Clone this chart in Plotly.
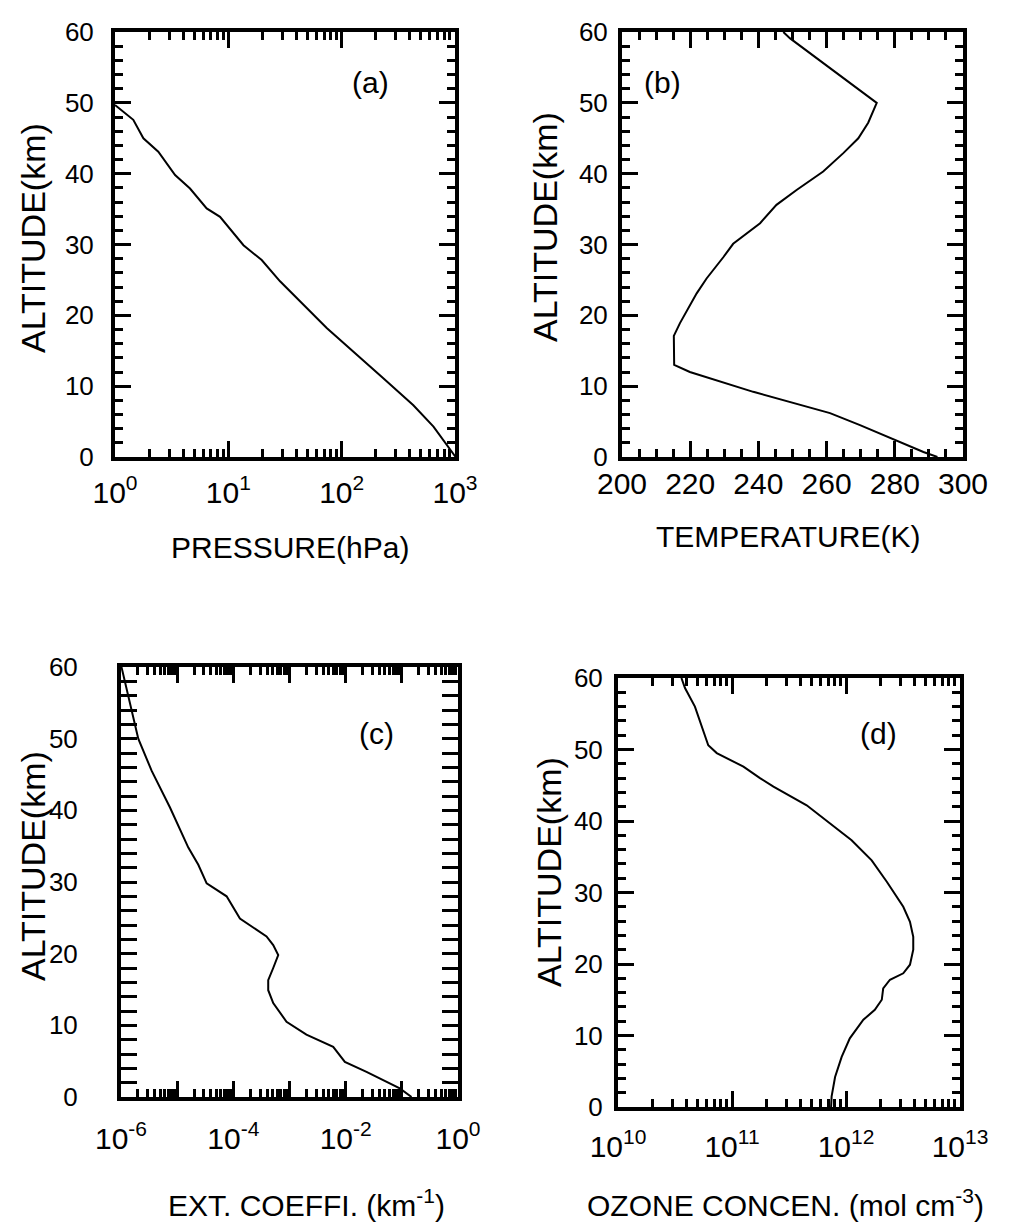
import plotly.graph_objects as go

# ---------------- data ----------------
# (a) pressure profile
alt_a = [49.7, 47.6, 45.0, 43.1, 39.8, 37.9, 35.1, 33.9, 29.9, 27.8, 24.8, 18.2, 11.1, 7.3, 4.3, 1.7, 0.0]
pressure = [1.0, 1.45, 1.78, 2.41, 3.39, 4.59, 6.44, 8.45, 13.6, 19.7, 28.6, 73.8, 233, 429, 646, 848, 1013]

# (b) temperature profile
alt_b = [60, 59.1, 50.0, 47.2, 45.0, 42.9, 40.3, 37.7, 35.6, 33.0, 30.1, 28.2, 25.2, 23.1, 18.9, 17.1,
         13.0, 12.0, 9.2, 6.2, 4.5, 1.9, 0.7, 0.0]
temperature = [247.3, 249.3, 274.7, 272.2, 269.3, 264.9, 259.0, 251.2, 245.3, 240.5, 232.6, 229.7, 224.8,
               221.9, 217.0, 215.2, 215.3, 219.9, 238.5, 261.0, 269.8, 282.5, 288.4, 292.5]

# (c) extinction coefficient
alt_c = [60, 50, 45.5, 40.4, 34.8, 32.4, 29.8, 28.0, 24.9, 22.4, 21.2, 19.8, 18.0, 16.3, 14.9, 13.1,
         10.5, 8.7, 7.0, 4.9, 3.5, 1.2, 0.0]
ext_coef = [1.02e-6, 2.03e-6, 3.52e-6, 7.45e-6, 1.58e-5, 2.38e-5, 3.35e-5, 7.59e-5, 1.31e-4, 3.90e-4,
            5.13e-4, 6.30e-4, 5.13e-4, 4.18e-4, 4.18e-4, 5.13e-4, 8.85e-4, 2.00e-3, 6.0e-3, 9.68e-3,
            2.35e-2, 9.2e-2, 0.149]

# (d) ozone concentration
alt_d = [60, 58.6, 56.0, 53.2, 50.6, 49.5, 47.6, 46.0, 44.8, 42.2, 40.4, 37.3, 34.5, 31.5, 28.0, 25.9,
         23.8, 22.0, 19.9, 18.7, 17.8, 16.6, 15.0, 13.6, 12.2, 9.6, 7.0, 4.2, 1.5, 0.0]
ozone = [3.60e10, 3.87e10, 4.73e10, 5.42e10, 6.19e10, 7.35e10, 1.26e11, 1.76e11, 2.31e11, 4.52e11,
         6.32e11, 1.12e12, 1.68e12, 2.28e12, 3.18e12, 3.64e12, 3.89e12, 3.89e12, 3.64e12, 3.18e12,
         2.43e12, 2.12e12, 2.06e12, 1.79e12, 1.42e12, 1.08e12, 9.16e11, 8.02e11, 7.48e11, 7.40e11]

# tick labels
alt_ticks = [0, 10, 20, 30, 40, 50, 60]
alt_ticktext = ["0", "10", "20", "30", "40", "50", "60"]
p_tickvals = [1, 10, 100, 1000]
p_ticktext = ["10<sup>0</sup>", "10<sup>1</sup>", "10<sup>2</sup>", "10<sup>3</sup>"]
t_tickvals = [200, 220, 240, 260, 280, 300]
t_ticktext = ["200", "220", "240", "260", "280", "300"]
e_tickvals = [1e-6, 1e-4, 1e-2, 1]
e_ticktext = ["10<sup>-6</sup>", "10<sup>-4</sup>", "10<sup>-2</sup>", "10<sup>0</sup>"]
e_decades = [1e-6, 1e-5, 1e-4, 1e-3, 1e-2, 1e-1, 1]
o_tickvals = [1e10, 1e11, 1e12, 1e13]
o_ticktext = ["10<sup>10</sup>", "10<sup>11</sup>", "10<sup>12</sup>", "10<sup>13</sup>"]

panel_labels = ["(a)", "(b)", "(c)", "(d)"]
x_titles = ["PRESSURE(hPa)", "TEMPERATURE(K)", "EXT. COEFFI. (km<sup>-1</sup>)",
            "OZONE CONCEN. (mol cm<sup>-3</sup>)"]
y_title = "ALTITUDE(km)"

# ---------------- figure ----------------
PAGE_W, PAGE_H = 1010, 1226
BODY = 8  # default page margin around the plot
W, H = PAGE_W - 2 * BODY, PAGE_H - BODY
FONT = "Liberation Sans, Arial, Helvetica, sans-serif"


def px(x):
    return (x - BODY) / W


def py(y):
    return 1 - (y - BODY) / H


def log_minors(lo, hi):
    vals = []
    for e in range(lo, hi):
        for m in range(2, 10):
            vals.append(m * 10.0 ** e)
    return vals


fig = go.Figure()
line = dict(color="black", width=2)
fig.add_trace(go.Scatter(x=pressure, y=alt_a, mode="lines", line=line, xaxis="x", yaxis="y"))
fig.add_trace(go.Scatter(x=temperature, y=alt_b, mode="lines", line=line, xaxis="x2", yaxis="y2"))
fig.add_trace(go.Scatter(x=ext_coef, y=alt_c, mode="lines", line=line, xaxis="x3", yaxis="y3"))
fig.add_trace(go.Scatter(x=ozone, y=alt_d, mode="lines", line=line, xaxis="x4", yaxis="y4"))

common = dict(showline=True, linecolor="black", linewidth=4, mirror="allticks", ticks="inside",
              tickwidth=3, tickcolor="black", showgrid=False, zeroline=False, automargin=False,
              tickfont=dict(family=FONT, size=30, color="black"))

# panel frames (pixels in the page)
dom = {
    1: dict(x=(115, 455), y=(32, 457)),
    2: dict(x=(622, 963), y=(32, 457)),
    3: dict(x=(121, 458), y=(667, 1097)),
    4: dict(x=(618, 960), y=(678, 1107)),
}

minor_style = dict(ticks="inside", ticklen=8, tickwidth=2.5, tickcolor="black")
xaxes = {
    1: dict(type="log", range=[0, 3], tickmode="array", tickvals=p_tickvals, ticktext=p_ticktext,
            ticklen=16, ticklabelstandoff=6,
            minor=dict(minor_style, tickmode="array", tickvals=log_minors(0, 3))),
    2: dict(type="linear", range=[200, 300], tickmode="array", tickvals=t_tickvals, ticktext=t_ticktext,
            ticklen=16, ticklabelstandoff=-3,
            minor=dict(minor_style, dtick=5)),
    3: dict(type="log", range=[-6, 0], tickmode="array", tickvals=e_tickvals, ticktext=e_ticktext,
            ticklen=16, ticklabelstandoff=12,
            minor=dict(minor_style, tickmode="array", tickvals=log_minors(-6, 0))),
    4: dict(type="log", range=[10, 13], tickmode="array", tickvals=o_tickvals, ticktext=o_ticktext,
            ticklen=16, ticklabelstandoff=10,
            minor=dict(minor_style, tickmode="array", tickvals=log_minors(10, 13))),
}
ystand = {1: 12, 2: 5, 3: 34, 4: 6}

layout = dict(width=W, height=H, margin=dict(l=0, r=0, t=0, b=0, autoexpand=False),
              paper_bgcolor="white", plot_bgcolor="white", showlegend=False)
for i in range(1, 5):
    sx = "" if i == 1 else str(i)
    d = dom[i]
    xa = dict(common)
    xa.update(xaxes[i])
    xa.update(domain=[px(d["x"][0]), px(d["x"][1])], anchor="y" + sx)
    ya = dict(common)
    ya.update(range=[0, 60], tickmode="array", tickvals=alt_ticks, ticktext=alt_ticktext, ticklen=16,
              tickfont=dict(family=FONT, size=26, color="black"),
              ticklabelstandoff=ystand[i],
              minor=dict(minor_style, dtick=2),
              domain=[py(d["y"][1]), py(d["y"][0])], anchor="x" + sx)
    layout["xaxis" + sx] = xa
    layout["yaxis" + sx] = ya

# panel (c): long major ticks at every decade on an overlaid tick-only axis
layout["xaxis5"] = dict(type="log", range=[-6, 0], overlaying="x3", anchor="y3",
                        tickmode="array", tickvals=e_decades, showticklabels=False,
                        ticks="inside", ticklen=16, tickwidth=3, tickcolor="black",
                        showline=False, mirror="allticks", showgrid=False, zeroline=False,
                        domain=[px(dom[3]["x"][0]), px(dom[3]["x"][1])])

fig.update_layout(**layout)
# invisible helper trace so the overlay axis is drawn
fig.add_trace(go.Scatter(x=[1e-6, 1], y=[0, 0], mode="lines", line=dict(width=0), xaxis="x5", yaxis="y3",
                         hoverinfo="skip", showlegend=False))

ann_font = dict(family=FONT, size=30, color="black")
letter_pos = [(370, 83), (662, 83), (376, 733), (878, 733)]
xt_pos = [(290, 547), (788, 536), (306, 1203), (785, 1203)]
yt_pos = [(33, 238), (545, 227), (33, 866), (549, 872)]
for i in range(4):
    fig.add_annotation(text=panel_labels[i], x=px(letter_pos[i][0]), y=py(letter_pos[i][1]),
                       xref="paper", yref="paper", showarrow=False, font=ann_font,
                       xanchor="center", yanchor="middle")
    fig.add_annotation(text=x_titles[i], x=px(xt_pos[i][0]), y=py(xt_pos[i][1]),
                       xref="paper", yref="paper", showarrow=False, font=ann_font,
                       xanchor="center", yanchor="middle")
    fig.add_annotation(text=y_title, x=px(yt_pos[i][0]), y=py(yt_pos[i][1]), textangle=-90,
                       xref="paper", yref="paper", showarrow=False,
                       font=dict(family=FONT, size=34, color="black"),
                       xanchor="center", yanchor="middle")

fig.write_html("out.html")
